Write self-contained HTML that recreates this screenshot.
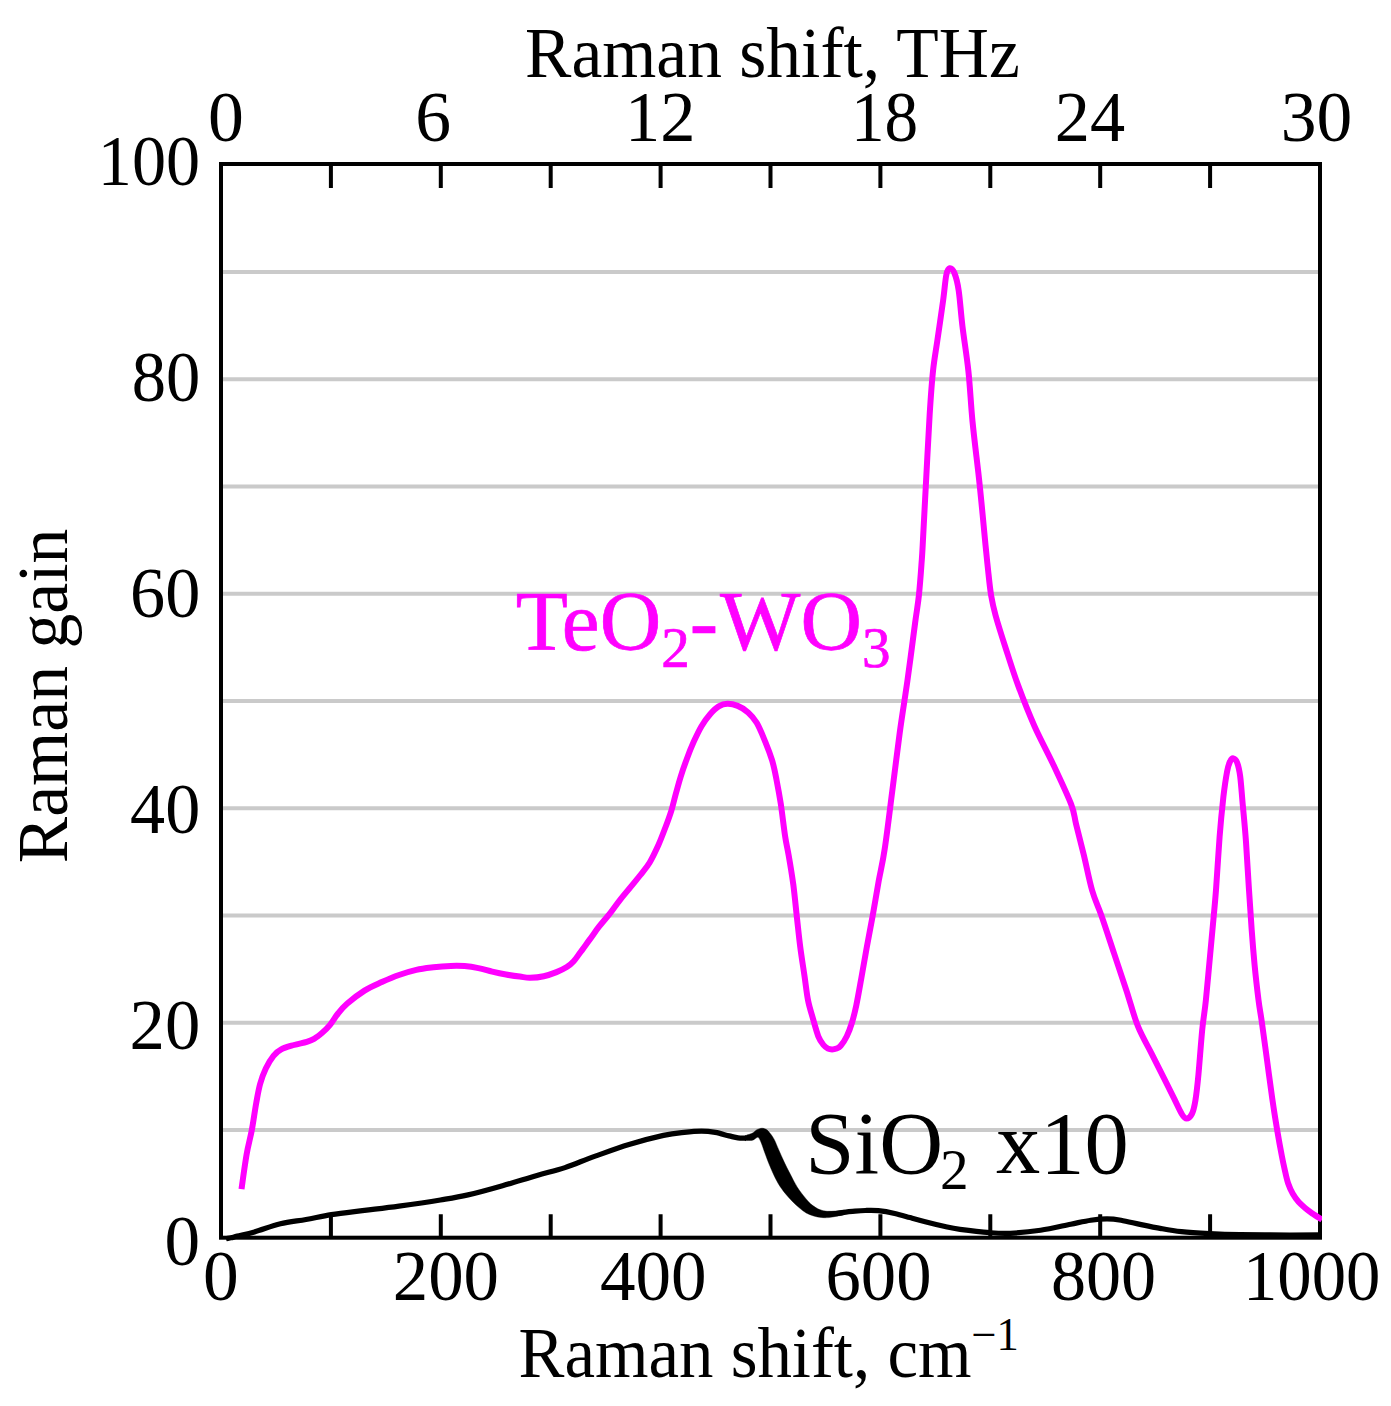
<!DOCTYPE html>
<html><head><meta charset="utf-8"><title>Raman gain</title>
<style>html,body{margin:0;padding:0;background:#fff}svg{display:block}text{font-family:"Liberation Serif",serif;fill:#000}</style>
</head><body>
<svg width="1391" height="1406" viewBox="0 0 1391 1406">
<rect width="1391" height="1406" fill="#fff"/>
<path d="M221.0 1130.00H1320.0M221.0 1022.75H1320.0M221.0 915.50H1320.0M221.0 808.25H1320.0M221.0 701.00H1320.0M221.0 593.75H1320.0M221.0 486.50H1320.0M221.0 379.25H1320.0M221.0 272.00H1320.0" stroke="#cacaca" stroke-width="4" fill="none"/>
<path d="M330.9 164.0v24M330.9 1237.7v-23.5M440.8 164.0v24M440.8 1237.7v-23.5M550.7 164.0v24M550.7 1237.7v-23.5M660.6 164.0v24M660.6 1237.7v-23.5M770.5 164.0v24M770.5 1237.7v-23.5M880.4 164.0v24M880.4 1237.7v-23.5M990.3 164.0v24M990.3 1237.7v-23.5M1100.2 164.0v24M1100.2 1237.7v-23.5M1210.1 164.0v24M1210.1 1237.7v-23.5" stroke="#000" stroke-width="4" fill="none"/>
<rect x="221.0" y="164.0" width="1099.0" height="1073.7" fill="none" stroke="#000" stroke-width="4"/>
<clipPath id="cp"><rect x="219.0" y="162.0" width="1103.0" height="1079.7"/></clipPath>
<g clip-path="url(#cp)" fill="none" stroke-linejoin="round">
<path d="M226.0 1238.7C226.8 1238.5 229.1 1238.2 231.0 1237.8C232.9 1237.4 233.4 1237.1 237.3 1236.1C241.2 1235.1 247.3 1234.0 254.5 1231.9C261.7 1229.9 271.8 1225.9 280.4 1223.8C289.0 1221.7 297.5 1221.0 306.0 1219.5C314.5 1218.0 321.6 1216.1 331.3 1214.6C341.1 1213.1 353.2 1211.8 364.5 1210.4C375.8 1209.0 386.4 1207.8 399.0 1206.1C411.6 1204.4 428.9 1201.9 440.4 1200.0C451.9 1198.1 457.6 1197.3 468.0 1194.9C478.4 1192.5 491.0 1189.0 502.5 1185.7C514.0 1182.5 526.6 1178.4 537.0 1175.4C547.4 1172.4 555.4 1170.8 565.0 1167.6C574.6 1164.4 583.8 1160.2 594.5 1156.4C605.2 1152.6 617.5 1148.0 629.0 1144.5C640.5 1141.0 654.3 1137.4 663.5 1135.4C672.7 1133.4 677.9 1133.0 684.2 1132.3C690.5 1131.6 696.3 1131.1 701.5 1131.1C706.7 1131.1 710.7 1131.6 715.3 1132.4C719.9 1133.2 725.3 1135.0 729.1 1135.9C732.9 1136.8 735.2 1137.5 738.0 1137.9C740.8 1138.3 744.7 1138.1 746.0 1138.1" stroke="#000" stroke-width="5.2"/>
<path d="M826.0 1214.5C827.7 1214.3 832.7 1214.0 836.0 1213.6C839.3 1213.2 842.7 1212.5 845.9 1212.1C849.1 1211.7 851.8 1211.5 855.0 1211.2C858.2 1210.9 861.4 1210.6 865.3 1210.5C869.2 1210.4 873.3 1210.2 878.2 1210.7C883.1 1211.2 889.4 1212.3 894.7 1213.5C900.0 1214.7 904.9 1216.2 910.0 1217.6C915.1 1219.0 919.4 1220.2 925.2 1221.7C931.0 1223.2 939.2 1225.2 945.0 1226.5C950.8 1227.8 952.5 1228.3 960.0 1229.3C967.5 1230.3 981.8 1232.0 990.2 1232.7C998.6 1233.4 1001.9 1233.7 1010.3 1233.3C1018.7 1232.9 1030.4 1231.8 1040.5 1230.3C1050.6 1228.8 1062.3 1225.9 1070.7 1224.2C1079.1 1222.5 1084.8 1221.1 1090.8 1220.2C1096.8 1219.3 1102.0 1218.8 1107.0 1218.8C1112.0 1218.8 1115.3 1219.2 1121.0 1220.2C1126.7 1221.2 1134.5 1223.2 1141.2 1224.6C1147.9 1226.0 1154.6 1227.4 1161.3 1228.6C1168.0 1229.8 1173.4 1230.8 1181.4 1231.7C1189.5 1232.6 1199.8 1233.2 1209.6 1233.7C1219.4 1234.2 1226.6 1234.5 1240.0 1234.7C1253.4 1234.9 1276.7 1235.0 1290.0 1235.0C1303.3 1235.0 1315.0 1234.8 1320.0 1234.8" stroke="#000" stroke-width="5.2"/>
<path d="M745.0 1135.7C746.2 1135.3 750.5 1134.1 752.5 1133.1C754.5 1132.1 755.3 1130.5 756.9 1129.7C758.5 1128.9 760.6 1128.2 762.2 1128.2C763.8 1128.2 765.3 1128.8 766.5 1129.6C767.7 1130.3 768.3 1131.1 769.6 1132.7C770.9 1134.3 772.7 1136.5 774.2 1139.4C775.7 1142.3 777.1 1146.2 778.8 1149.9C780.4 1153.6 782.2 1157.8 784.1 1161.8C786.0 1165.8 787.9 1169.6 790.1 1173.8C792.3 1178.0 794.7 1183.1 797.3 1187.2C799.9 1191.3 803.2 1195.4 805.7 1198.4C808.2 1201.4 809.9 1203.2 812.2 1205.1C814.5 1207.0 817.2 1208.6 819.7 1209.6C822.2 1210.6 824.5 1211.1 827.2 1211.3C829.9 1211.5 833.0 1211.2 836.0 1211.0C839.0 1210.8 843.5 1209.9 845.0 1210.4C846.5 1210.9 846.5 1213.2 845.0 1214.2C843.5 1215.2 838.7 1215.7 836.0 1216.3C833.3 1216.9 831.1 1217.4 828.6 1217.6C826.1 1217.8 823.7 1217.8 821.2 1217.5C818.7 1217.2 816.2 1216.8 813.7 1216.0C811.2 1215.2 808.6 1214.3 806.2 1213.0C803.9 1211.7 801.9 1210.0 799.6 1208.1C797.3 1206.2 794.8 1203.9 792.4 1201.4C790.0 1198.9 787.4 1196.2 785.0 1193.2C782.6 1190.2 780.4 1187.2 778.2 1183.5C776.0 1179.8 774.0 1175.4 771.9 1170.8C769.8 1166.2 767.6 1160.4 765.9 1155.8C764.1 1151.2 762.6 1146.2 761.4 1143.2C760.1 1140.2 759.4 1138.4 758.4 1137.6C757.4 1136.8 756.5 1138.0 755.5 1138.4C754.5 1138.8 754.2 1139.8 752.5 1140.2C750.8 1140.6 746.2 1140.5 745.0 1140.6Z" fill="#000" stroke="#000" stroke-width="0.4"/>
<path d="M241.5 1189.2C242.3 1183.4 244.9 1164.2 246.6 1154.4C248.3 1144.6 250.2 1138.6 251.8 1130.1C253.4 1121.6 254.8 1110.9 256.2 1103.2C257.6 1095.5 258.5 1089.8 260.1 1084.0C261.7 1078.2 263.6 1073.3 265.8 1068.6C268.0 1063.9 270.9 1059.0 273.5 1055.8C276.1 1052.6 277.8 1051.2 281.2 1049.4C284.6 1047.6 289.7 1046.3 294.0 1045.0C298.3 1043.7 303.4 1042.9 306.8 1041.8C310.2 1040.7 311.9 1040.1 314.5 1038.6C317.1 1037.1 319.6 1035.0 322.2 1032.8C324.8 1030.5 327.2 1028.3 329.8 1025.1C332.4 1021.9 335.1 1017.1 338.0 1013.5C340.9 1009.9 342.9 1007.3 347.3 1003.5C351.7 999.7 358.8 994.2 364.5 990.6C370.2 987.0 376.1 984.6 381.8 982.0C387.6 979.4 393.2 977.0 399.0 975.0C404.8 973.0 410.6 971.2 416.3 969.9C422.1 968.6 427.8 968.0 433.5 967.3C439.2 966.6 445.6 966.1 450.8 965.9C456.0 965.7 460.0 965.7 464.6 966.1C469.2 966.5 473.8 967.2 478.4 968.1C483.0 969.0 487.6 970.5 492.2 971.6C496.8 972.7 501.4 973.7 506.0 974.5C510.6 975.3 515.8 976.1 519.8 976.6C523.8 977.1 526.0 977.9 530.0 977.8C534.0 977.7 539.4 977.2 543.8 976.2C548.2 975.2 552.7 973.6 556.5 972.1C560.3 970.6 563.9 968.8 566.8 967.0C569.7 965.2 571.4 963.7 573.7 961.2C576.0 958.7 577.9 955.6 580.6 952.0C583.3 948.4 586.7 943.6 589.8 939.4C592.9 935.2 595.7 930.9 599.0 926.7C602.3 922.5 605.9 918.5 609.4 914.1C612.9 909.7 616.2 904.7 619.7 900.3C623.2 895.9 626.7 891.8 630.1 887.6C633.5 883.4 637.1 879.2 640.4 875.0C643.7 870.8 646.7 867.5 649.7 862.5C652.7 857.5 655.7 851.0 658.3 845.3C660.9 839.5 663.0 833.8 665.2 828.0C667.4 822.2 669.5 816.5 671.3 810.8C673.1 805.0 674.3 799.2 675.9 793.5C677.5 787.8 679.0 782.0 680.8 776.3C682.6 770.5 684.6 764.8 686.8 759.0C688.9 753.2 691.2 747.3 693.7 741.8C696.2 736.3 698.8 730.8 701.5 726.2C704.2 721.6 707.2 717.5 710.1 714.2C713.0 710.9 715.8 708.1 718.7 706.4C721.6 704.7 724.2 703.9 727.4 703.8C730.6 703.7 734.2 704.5 737.7 705.9C741.2 707.3 744.9 709.6 748.1 712.4C751.3 715.2 753.8 717.9 756.7 722.8C759.6 727.7 762.7 735.5 765.3 741.8C767.9 748.1 770.3 754.4 772.2 760.7C774.1 767.0 775.1 772.5 776.5 779.7C777.9 786.9 779.3 794.4 780.8 803.9C782.2 813.4 783.9 828.2 785.2 836.7C786.5 845.2 787.2 847.0 788.6 855.0C790.0 863.0 791.9 874.4 793.3 884.5C794.6 894.6 795.6 905.2 796.7 915.6C797.9 926.0 798.9 936.5 800.2 946.6C801.5 956.7 803.2 967.1 804.5 976.0C805.8 984.9 806.6 992.9 808.0 1000.1C809.4 1007.3 811.4 1013.1 813.1 1019.1C814.8 1025.1 816.6 1032.0 818.3 1036.3C820.0 1040.6 821.9 1043.0 823.5 1045.0C825.1 1047.0 826.6 1047.9 828.0 1048.6C829.4 1049.3 830.7 1049.4 832.1 1049.4C833.5 1049.4 835.1 1049.1 836.5 1048.5C837.9 1047.9 839.0 1047.8 840.7 1045.8C842.4 1043.8 844.9 1040.2 846.8 1036.3C848.7 1032.4 850.4 1027.7 852.0 1022.5C853.6 1017.3 854.7 1012.8 856.3 1005.3C857.9 997.8 859.7 987.2 861.4 977.7C863.1 968.2 864.7 958.6 866.6 948.3C868.5 937.9 870.7 926.8 872.7 915.6C874.7 904.4 876.7 892.2 878.7 881.1C880.7 870.0 882.5 863.9 884.7 849.0C887.0 834.1 889.7 810.9 892.2 791.6C894.7 772.3 897.2 751.5 899.7 733.0C902.2 714.5 904.8 699.2 907.4 680.9C910.0 662.6 913.2 637.2 915.1 623.0C917.0 608.8 917.9 605.0 918.9 595.4C919.9 585.8 920.8 573.6 921.4 565.2C922.0 556.8 922.0 558.5 922.7 545.0C923.5 531.5 924.7 506.2 925.9 484.3C927.1 462.4 928.5 432.8 929.7 413.9C930.9 395.0 931.7 383.3 933.0 371.1C934.3 358.9 935.6 352.6 937.3 340.9C939.0 329.2 941.6 311.7 943.1 300.7C944.6 289.7 945.2 280.4 946.3 275.0C947.4 269.6 948.2 268.5 949.6 268.2C951.0 267.9 952.9 269.3 954.4 273.0C955.9 276.7 957.4 281.8 958.7 290.6C960.0 299.4 960.8 312.4 962.4 325.8C964.0 339.2 966.7 355.2 968.4 371.1C970.1 387.0 970.8 403.8 972.5 421.4C974.2 439.0 977.1 461.3 978.8 476.8C980.5 492.3 981.5 503.1 982.6 514.5C983.7 525.9 984.6 535.7 985.5 545.0C986.4 554.3 987.2 561.8 988.1 570.2C989.0 578.6 989.9 587.9 991.1 595.4C992.4 602.9 993.2 606.7 995.6 615.5C998.0 624.3 1001.9 636.5 1005.7 648.2C1009.5 659.9 1013.5 672.9 1018.3 685.9C1023.1 698.9 1028.7 713.2 1034.5 726.2C1040.3 739.2 1046.9 751.0 1053.0 764.0C1059.1 777.0 1067.2 794.2 1071.1 804.2C1074.9 814.2 1074.0 815.9 1076.1 824.3C1078.2 832.7 1081.0 843.5 1083.7 854.5C1086.4 865.5 1089.1 879.9 1092.0 890.0C1094.9 900.1 1097.6 904.7 1101.3 915.2C1105.0 925.7 1109.7 940.3 1113.9 952.9C1118.1 965.5 1122.5 978.5 1126.5 990.7C1130.5 1002.9 1133.6 1015.4 1137.8 1025.9C1142.0 1036.4 1147.2 1044.8 1151.6 1053.6C1156.0 1062.4 1160.4 1071.2 1164.2 1078.7C1168.0 1086.2 1171.4 1093.0 1174.3 1098.9C1177.2 1104.8 1179.8 1110.7 1181.8 1114.0C1183.8 1117.3 1184.9 1118.6 1186.6 1118.6C1188.3 1118.6 1190.3 1117.2 1191.8 1114.2C1193.3 1111.2 1194.3 1107.2 1195.4 1100.5C1196.5 1093.8 1197.4 1085.8 1198.5 1074.0C1199.6 1062.2 1201.0 1042.3 1202.2 1030.0C1203.4 1017.7 1204.6 1012.9 1205.9 1000.0C1207.2 987.1 1209.0 967.0 1210.3 952.9C1211.6 938.8 1212.8 925.7 1213.8 915.2C1214.8 904.7 1215.0 903.0 1216.0 890.0C1217.0 877.0 1218.4 852.4 1219.6 836.9C1220.8 821.4 1222.2 807.6 1223.4 796.7C1224.7 785.8 1226.0 777.4 1227.1 771.5C1228.2 765.6 1229.0 763.6 1230.1 761.4C1231.1 759.2 1232.2 758.2 1233.4 758.4C1234.6 758.6 1236.1 759.7 1237.2 762.7C1238.3 765.7 1239.3 769.6 1240.2 776.5C1241.1 783.4 1241.7 793.3 1242.7 804.2C1243.7 815.1 1245.0 827.7 1246.0 842.0C1247.0 856.3 1248.0 875.3 1249.0 890.0C1250.0 904.7 1250.8 917.5 1251.7 930.0C1252.6 942.5 1253.5 953.3 1254.6 965.0C1255.7 976.7 1257.3 990.4 1258.5 1000.0C1259.7 1009.6 1260.5 1012.5 1261.9 1022.6C1263.3 1032.7 1265.4 1048.0 1267.1 1060.7C1268.8 1073.4 1270.6 1087.0 1272.3 1098.9C1274.0 1110.8 1275.9 1122.4 1277.5 1131.9C1279.1 1141.5 1280.7 1150.0 1281.9 1156.2C1283.1 1162.4 1283.6 1164.7 1284.6 1169.2C1285.6 1173.7 1286.7 1179.2 1288.1 1183.3C1289.5 1187.4 1291.0 1190.7 1292.8 1193.8C1294.6 1196.9 1296.5 1199.6 1298.7 1202.1C1300.9 1204.5 1303.4 1206.5 1305.7 1208.5C1308.0 1210.5 1310.1 1211.9 1312.8 1213.8C1315.5 1215.7 1320.5 1218.7 1322.0 1219.7" stroke="#ff00ff" stroke-width="6"/>
</g>
<text transform="translate(525.04 77.30) scale(0.9791 1)" font-size="71">Raman shift, THz</text>
<text transform="translate(208.02 140.60) scale(1.0100 1)" font-size="71">0</text>
<text transform="translate(415.17 140.60) scale(1.0098 1)" font-size="71">6</text>
<text transform="translate(624.90 140.60) scale(0.9926 1)" font-size="71">12</text>
<text transform="translate(850.88 140.60) scale(0.9468 1)" font-size="71">18</text>
<text transform="translate(1054.73 140.60) scale(0.9910 1)" font-size="71">24</text>
<text transform="translate(1280.77 140.60) scale(1.0085 1)" font-size="71">30</text>
<text transform="translate(202.93 1300.00) scale(1.0067 1)" font-size="71">0</text>
<text transform="translate(392.70 1299.80) scale(0.9985 1)" font-size="71">200</text>
<text transform="translate(599.90 1299.80) scale(1.0015 1)" font-size="71">400</text>
<text transform="translate(825.51 1299.80) scale(0.9955 1)" font-size="71">600</text>
<text transform="translate(1050.98 1299.80) scale(0.9881 1)" font-size="71">800</text>
<text transform="translate(1242.95 1299.80) scale(0.9684 1)" font-size="71">1000</text>
<text transform="translate(97.79 184.60) scale(0.9610 1)" font-size="71">100</text>
<text transform="translate(131.64 401.00) scale(0.9664 1)" font-size="71">80</text>
<text transform="translate(130.03 617.30) scale(0.9900 1)" font-size="71">60</text>
<text transform="translate(130.12 832.80) scale(0.9888 1)" font-size="71">40</text>
<text transform="translate(129.61 1049.20) scale(0.9962 1)" font-size="71">20</text>
<text transform="translate(164.54 1265.40) scale(1.0033 1)" font-size="71">0</text>
<text transform="translate(518.56 1377.00) scale(0.9693 1)" font-size="71">Raman shift, cm<tspan font-size="46" dy="-27.3">−1</tspan></text>
<text transform="translate(515.80 649.60) scale(1.0018 1)" font-size="85" style="fill:#ff00ff;stroke:#ff00ff;stroke-width:0.7">TeO<tspan font-size="57" dy="17">2</tspan><tspan dy="-17">-</tspan><tspan dx="2">WO</tspan><tspan font-size="57" dy="17">3</tspan></text>
<text transform="translate(805.37 1172.50) scale(1.0058 1)" font-size="88">SiO<tspan font-size="57" dy="16.4" dx="-3">2</tspan><tspan dy="-16.4" dx="5"> x10</tspan></text>
<text transform="translate(66.60 863.26) rotate(-90) scale(0.9811 1)" font-size="71">Raman gain</text>
</svg></body></html>
